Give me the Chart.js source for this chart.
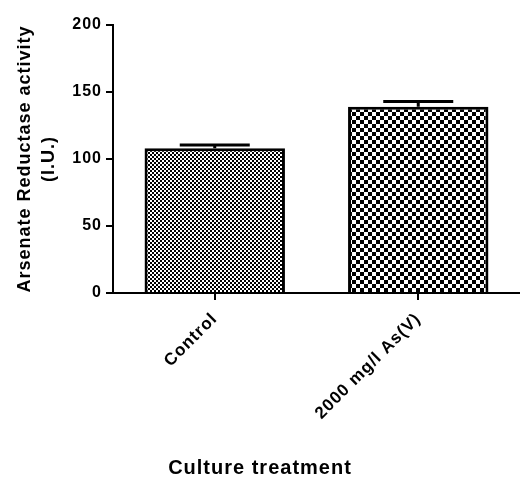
<!DOCTYPE html>
<html>
<head>
<meta charset="utf-8">
<script src="https://cdn.jsdelivr.net/npm/chart.js@4"></script>
<style>
    html, body { margin: 0; padding: 0; background: #fff; }
    #wrap { width: 520px; height: 480px; }
</style>
</head>
<body>
<div id="wrap"><canvas id="chart" width="520" height="480"></canvas></div>
<script>
const CATEGORIES = ['Control', '2000 mg/l As(V)'];
const MEANS = [108, 139];
const ERRORS = [2.5, 4];
const Y_MIN = 0;
const Y_MAX = 200;
const Y_STEP = 50;

const FONT = 'Liberation Sans, Arial, sans-serif';

function checker(size) {
    let c = document.createElement('canvas');
    c.width = size * 2;
    c.height = size * 2;
    let g = c.getContext('2d');
    g.fillStyle = '#fff';
    g.fillRect(0, 0, c.width, c.height);
    g.fillStyle = '#000';
    g.fillRect(0, 0, size, size);
    g.fillRect(size, size, size, size);
    return g.createPattern(c, 'repeat');
}

// the original uses a wide bold face, spread the letters a little
const wideText = {
    id: 'wideText',
    beforeUpdate(chart) { chart.ctx.letterSpacing = '1px'; },
    beforeDraw(chart) { chart.ctx.letterSpacing = '1px'; }
};

// error bars, upward only, with caps
const errorBars = {
    id: 'errorBars',
    afterDatasetsDraw(chart) {
        let ctx = chart.ctx;
        let y = chart.scales.y;
        let meta = chart.getDatasetMeta(0);

        ctx.save();
        ctx.strokeStyle = '#000';
        ctx.lineWidth = 3;
        meta.data.forEach((bar, i) => {
            let top = y.getPixelForValue(MEANS[i] + ERRORS[i]);
            let base = y.getPixelForValue(MEANS[i]);
            ctx.beginPath();
            ctx.moveTo(bar.x, base);
            ctx.lineTo(bar.x, top);
            ctx.moveTo(bar.x - 35, top);
            ctx.lineTo(bar.x + 35, top);
            ctx.stroke();
        });
        ctx.restore();
    }
};

let ctx = document.getElementById('chart').getContext('2d');

new Chart(ctx, {
    type: 'bar',
    plugins: [wideText, errorBars],
    data: {
        labels: CATEGORIES,
        datasets: [{
            data: MEANS,
            backgroundColor: [checker(2), checker(4)],
            borderColor: '#000',
            borderWidth: 3,
            barPercentage: 0.69,
            categoryPercentage: 1
        }]
    },
    options: {
        responsive: false,
        animation: false,
        layout: {
            padding: { top: 25, left: 0, right: 0, bottom: 0 }
        },
        scales: {
            x: {
                offset: true,
                afterFit: scale => { scale.height = 163; },
                border: { color: '#000', width: 2 },
                grid: {
                    offset: false,
                    drawOnChartArea: false,
                    color: '#000',
                    lineWidth: 2,
                    tickLength: 7
                },
                ticks: {
                    color: '#000',
                    maxRotation: 45,
                    minRotation: 45,
                    padding: 9,
                    font: { family: FONT, size: 17, weight: 'bold' }
                }
            },
            y: {
                min: Y_MIN,
                max: Y_MAX,
                afterFit: scale => { scale.width = 113; },
                border: { color: '#000', width: 2 },
                grid: {
                    drawOnChartArea: false,
                    color: '#000',
                    lineWidth: 2,
                    tickLength: 7
                },
                ticks: {
                    stepSize: Y_STEP,
                    color: '#000',
                    padding: 4,
                    font: { family: FONT, size: 16, weight: 'bold' }
                },
                title: {
                    display: true,
                    text: ['Arsenate Reductase activity', '(I.U.)'],
                    color: '#000',
                    padding: { top: 13, bottom: 0 },
                    font: { family: FONT, size: 18, weight: 'bold', lineHeight: 1.33 }
                }
            }
        },
        plugins: {
            legend: { display: false },
            tooltip: { enabled: false },
            title: {
                display: true,
                position: 'bottom',
                text: 'Culture treatment',
                color: '#000',
                padding: { top: 0, bottom: 0 },
                font: { family: FONT, size: 20, weight: 'bold', lineHeight: 1.2 }
            }
        }
    }
});
</script>
</body>
</html>
